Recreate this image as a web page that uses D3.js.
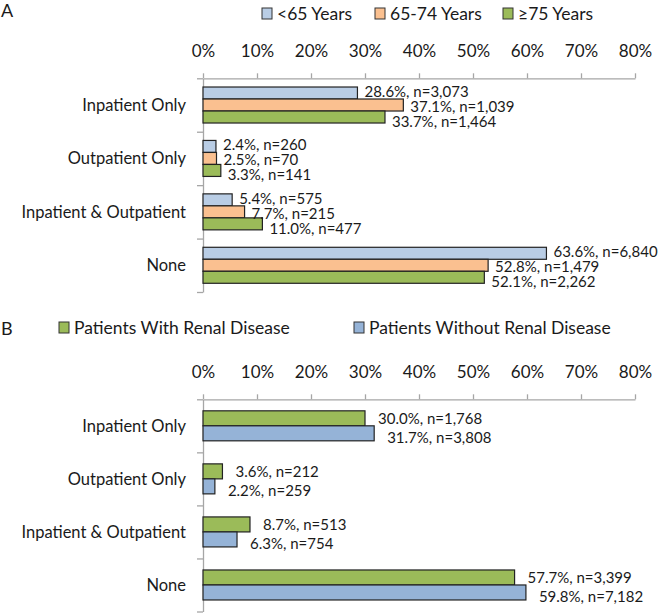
<!DOCTYPE html>
<html>
<head>
<meta charset="utf-8">
<script src="https://cdn.jsdelivr.net/npm/d3@7"></script>
<style>
  html, body { margin: 0; padding: 0; background: #fff; }
  svg { display: block; }
  text { font-family: Lato, "Open Sans", sans-serif; fill: #1a1a1a; }
</style>
</head>
<body>
<svg id="chart" width="665" height="613"></svg>
<script>
// ---------- data ----------
const categories = ["Inpatient Only", "Outpatient Only", "Inpatient & Outpatient", "None"];
const tickValues = [0, 10, 20, 30, 40, 50, 60, 70, 80];

// Panel A: age groups
const ageSeries = ["<65 Years", "65-74 Years", "≥75 Years"];
const ageUnder65Pct = [28.6, 2.4, 5.4, 63.6];
const ageUnder65N   = [3073, 260, 575, 6840];
const age65to74Pct  = [37.1, 2.5, 7.7, 52.8];
const age65to74N    = [1039, 70, 215, 1479];
const age75plusPct  = [33.7, 3.3, 11.0, 52.1];
const age75plusN    = [1464, 141, 477, 2262];

// Panel B: renal disease
const renalSeries = ["Patients With Renal Disease", "Patients Without Renal Disease"];
const withRenalPct    = [30.0, 3.6, 8.7, 57.7];
const withRenalN      = [1768, 212, 513, 3399];
const withoutRenalPct = [31.7, 2.2, 6.3, 59.8];
const withoutRenalN   = [3808, 259, 754, 7182];

// ---------- styles ----------
const colorsA = ["#b9cde5", "#fac090", "#9bbb59"];
const colorsB = ["#9bbb59", "#95b3d7"];
const axisColor = "#a6a6a6";
const fmtN = d3.format(",");

const svg = d3.select("#chart");
const x = d3.scaleLinear().domain([0, 80]).range([203, 635]);

function panel(opts) {
  const g = svg.append("g");
  const { top, bottom, series, pcts, ns, colors, barH, labelGap, labelStep, labelShift } = opts;

  const yCat = d3.scaleBand().domain(categories).range([top, bottom]);
  const yEdge = d3.scaleLinear().domain([0, categories.length]).range([top, bottom]);

  // top value axis
  const xAxis = d3.axisTop(x)
    .tickValues(tickValues)
    .tickFormat(d => d + "%")
    .tickSize(5)
    .tickSizeOuter(0)
    .tickPadding(16);
  const ax = g.append("g").attr("transform", `translate(0,${top})`).call(xAxis);
  ax.select(".domain").attr("stroke", axisColor).attr("stroke-width", 1.3);
  ax.selectAll(".tick line").attr("stroke", axisColor).attr("stroke-width", 1.3);
  ax.selectAll(".tick text")
    .style("font-family", "Lato, 'Open Sans', sans-serif")
    .style("font-size", "17px")
    .attr("fill", "#1a1a1a");

  // left category axis (tick marks between categories)
  const yAxis = d3.axisLeft(yEdge)
    .tickValues(d3.range(0, categories.length + 1))
    .tickFormat("")
    .tickSize(6)
    .tickSizeOuter(0);
  const ay = g.append("g").attr("transform", `translate(${x(0)},0)`).call(yAxis);
  ay.select(".domain").attr("stroke", axisColor).attr("stroke-width", 1.3);
  ay.selectAll(".tick line").attr("stroke", axisColor).attr("stroke-width", 1.3);

  // category labels
  g.selectAll("text.cat").data(categories).enter().append("text")
    .attr("class", "cat")
    .attr("x", 186)
    .attr("y", d => yCat(d) + yCat.bandwidth() / 2)
    .attr("dy", "0.35em")
    .attr("text-anchor", "end")
    .style("font-size", "16.5px")
    .text(d => d);

  // bars and value labels
  const groupH = barH * series.length;
  categories.forEach((cat, ci) => {
    const c = yCat(cat) + yCat.bandwidth() / 2;
    const ySer = d3.scaleBand().domain(series).range([c - groupH / 2, c + groupH / 2]);
    series.forEach((s, si) => {
      const v = pcts[si][ci];
      g.append("rect")
        .attr("x", x(0))
        .attr("y", ySer(s))
        .attr("width", x(v) - x(0))
        .attr("height", ySer.bandwidth())
        .attr("fill", colors[si])
        .attr("stroke", "#222")
        .attr("stroke-width", 1.2);
    });
    series.forEach((s, si) => {
      const v = pcts[si][ci];
      const ly = c + (si - (series.length - 1) / 2) * labelStep + labelShift;
      g.append("text")
        .attr("x", x(v) + labelGap)
        .attr("y", ly)
        .attr("dy", "0.35em")
        .style("font-size", "15px")
        .text(`${v.toFixed(1)}%, n=${fmtN(ns[si][ci])}`);
    });
  });
}

panel({
  top: 78.3, bottom: 292,
  series: ageSeries,
  pcts: [ageUnder65Pct, age65to74Pct, age75plusPct],
  ns: [ageUnder65N, age65to74N, age75plusN],
  colors: colorsA, barH: 12, labelGap: 7, labelStep: 15, labelShift: 1.5
});

panel({
  top: 399.3, bottom: 611.5,
  series: renalSeries,
  pcts: [withRenalPct, withoutRenalPct],
  ns: [withRenalN, withoutRenalN],
  colors: colorsB, barH: 15, labelGap: 13, labelStep: 19, labelShift: 2
});

// panel letters
svg.append("text").attr("x", 1).attr("y", 17).style("font-size", "18px").text("A");
svg.append("text").attr("x", 1).attr("y", 335).style("font-size", "18px").text("B");

// legends
function legend(items, colors, y, xs) {
  items.forEach((t, i) => {
    svg.append("rect")
      .attr("x", xs[i]).attr("y", y - 6)
      .attr("width", 10).attr("height", 11)
      .attr("fill", colors[i]).attr("stroke", "#333").attr("stroke-width", 1);
    svg.append("text")
      .attr("x", xs[i] + 15).attr("y", y)
      .attr("dy", "0.35em")
      .style("font-size", "17.5px")
      .text(t);
  });
}
legend(ageSeries, colorsA, 14, [262, 375, 503]);
legend(renalSeries, colorsB, 328, [59, 354]);
</script>
</body>
</html>
